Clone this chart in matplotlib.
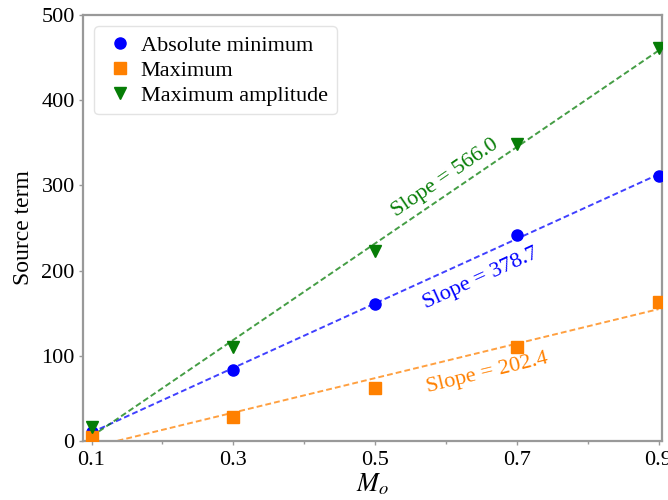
import numpy as np
import matplotlib
matplotlib.use("Agg")
import matplotlib.pyplot as plt

plt.rcParams["font.family"] = ["Liberation Serif", "DejaVu Serif"]
plt.rcParams["mathtext.fontset"] = "stix"

# Mach numbers and source-term measurements
mach = [0.1, 0.3, 0.5, 0.7, 0.9]
abs_minimum = [11, 83.5, 161, 241.5, 310.5]
maximum = [5, 28, 62, 110.5, 163.5]
max_amplitude = [16, 110.5, 223, 348.5, 461]

series_labels = ["Absolute minimum", "Maximum", "Maximum amplitude"]
slopes = [378.7, 202.4, 566.0]
colors = ["#0000ff", "#ff8000", "#067d06"]
markers = ["o", "s", "v"]
slope_text_pos = [(0.6495, 191), (0.659, 80), (0.599, 308)]

x_ticks = [0.1, 0.3, 0.5, 0.7, 0.9]
y_ticks = [0, 100, 200, 300, 400, 500]

fig = plt.figure(figsize=(6.68, 5.0), dpi=100)
ax = fig.add_axes([0.1243, 0.118, 0.8668, 0.852])
ax.set_xlim(0.088, 0.905)
ax.set_ylim(0, 500)

x = np.array(mach)
all_series = [abs_minimum, maximum, max_amplitude]
for ys, lab, slope, col, mk in zip(all_series, series_labels, slopes, colors, markers):
    y = np.array(ys)
    intercept = y.mean() - slope * x.mean()
    ax.plot(x, slope * x + intercept, linestyle="--", color=col, lw=1.4,
            alpha=0.75, dashes=(3, 1.6), zorder=2)
    ax.plot(x, y, linestyle="none", marker=mk, color=col, markersize=8,
            label=lab, zorder=3)

fig.canvas.draw()
for slope, col, (tx, ty) in zip(slopes, colors, slope_text_pos):
    p0 = ax.transData.transform((0.1, 0))
    p1 = ax.transData.transform((0.9, 0.8 * slope))
    ang = np.degrees(np.arctan2(p1[1] - p0[1], p1[0] - p0[0]))
    ax.text(tx, ty, f"Slope = {slope:.1f}", color=col, fontsize=16,
            rotation=ang, rotation_mode="anchor", ha="center", va="center")

ax.set_xticks(x_ticks)
ax.set_xticklabels([f"{v:.1f}" for v in x_ticks])
ax.set_xticks([0.2, 0.4, 0.6, 0.8], minor=True)
ax.set_yticks(y_ticks)
ax.tick_params(axis="both", which="major", labelsize=16, length=3,
               width=1, color="#999999")
ax.tick_params(axis="x", which="major", pad=4)
ax.tick_params(axis="y", which="major", pad=3)
ax.tick_params(axis="x", which="minor", length=2, width=1, color="#999999")

for sp in ax.spines.values():
    sp.set_color("#999999")
    sp.set_linewidth(1.6)

ax.set_xlabel(r"$M_o$", fontsize=19, labelpad=1)
ax.set_ylabel("Source term", fontsize=17, labelpad=5)

leg = ax.legend(loc="upper left", fontsize=16, frameon=True, fancybox=True,
                handletextpad=0.2, borderpad=0.4, labelspacing=0.2,
                handlelength=1.5)
leg.get_frame().set_edgecolor("#dddddd")
leg.get_frame().set_linewidth(1.0)

fig.savefig("out.png", dpi=100)
